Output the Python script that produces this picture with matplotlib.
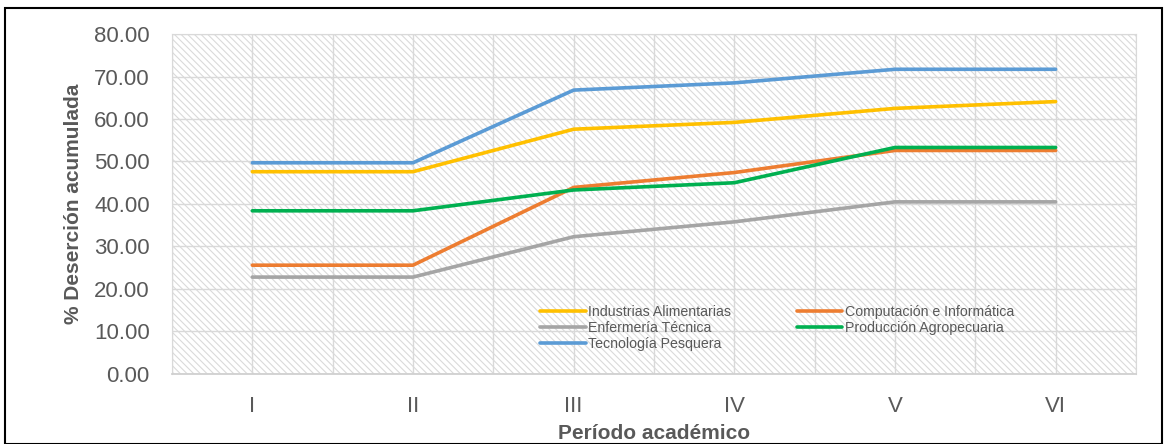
import matplotlib
matplotlib.use("Agg")
from matplotlib import pyplot as plt
from matplotlib.patches import Rectangle

plt.rcParams['font.family'] = ['Liberation Sans', 'DejaVu Sans']
plt.rcParams['hatch.linewidth'] = 0.8

# data
periods = ['I', 'II', 'III', 'IV', 'V', 'VI']
industrias = [47.6, 47.6, 57.6, 59.2, 62.5, 64.1]
computacion = [25.6, 25.6, 43.9, 47.4, 52.6, 52.6]
enfermeria = [22.8, 22.8, 32.3, 35.8, 40.5, 40.5]
produccion = [38.4, 38.4, 43.3, 45.0, 53.3, 53.3]
tecnologia = [49.7, 49.7, 66.8, 68.5, 71.7, 71.7]

series = [
    ('Industrias Alimentarias', industrias, '#FFC000'),
    ('Computación e Informática', computacion, '#ED7D31'),
    ('Enfermería Técnica', enfermeria, '#A5A5A5'),
    ('Producción Agropecuaria', produccion, '#00B050'),
    ('Tecnología Pesquera', tecnologia, '#5B9BD5'),
]

text_color = '#595959'
grid_color = '#d9d9d9'

fig = plt.figure(figsize=(11.67, 4.44), dpi=100)
fig.patches.append(Rectangle((0.004, 0.0), 0.992, 0.982, transform=fig.transFigure,
                             fill=False, edgecolor='black', linewidth=1.5))
ax = fig.add_axes([0.1474, 0.1577, 0.826, 0.7657])

# hatched plot area background
ax.add_patch(Rectangle((0, 0), 1, 1, transform=ax.transAxes, facecolor='white',
                       edgecolor='#dadada', linewidth=0, hatch='\\\\\\\\\\', zorder=0))

x = list(range(len(periods)))
handles = []
for name, vals, color in series:
    h, = ax.plot(x, vals, color=color, linewidth=2.6, label=name,
                 solid_capstyle='round', zorder=3)
    handles.append(h)

ax.set_xlim(-0.5, 5.5)
ax.set_ylim(0, 80)
ax.set_xticks(x)
ax.set_xticklabels(periods)
ax.set_xticks([i + 0.5 for i in range(-1, 6)], minor=True)
ax.set_yticks(range(0, 81, 10))
ax.set_yticklabels(['{0:.2f}'.format(v) for v in range(0, 81, 10)])
ax.grid(True, which='both', color=grid_color, linewidth=1.0, zorder=1)
ax.set_axisbelow(True)

ax.tick_params(axis='both', which='both', length=0, colors=text_color, labelsize=16)
ax.tick_params(axis='x', pad=16)
ax.tick_params(axis='y', pad=16)

for side in ['top', 'left', 'right']:
    ax.spines[side].set_color(grid_color)
ax.spines['bottom'].set_color('#d0d0d0')
ax.spines['bottom'].set_linewidth(1.3)

ax.set_ylabel('% Deserción acumulada', fontsize=15, fontweight='bold',
              color=text_color, labelpad=8)
ax.set_xlabel('Período académico', fontsize=15, fontweight='bold',
              color=text_color, labelpad=5)

# row-major legend order like the reference
order = [0, 2, 4, 1, 3]
leg = ax.legend([handles[i] for i in order], [series[i][0] for i in order],
                loc='upper left', bbox_to_anchor=(0.382, 0.202), ncol=2, frameon=False,
                fontsize=10.2, handlelength=3.2, handletextpad=0.2, labelspacing=0.12,
                columnspacing=4.6, borderaxespad=0, borderpad=0)
for t in leg.get_texts():
    t.set_color(text_color)

fig.savefig('out.png', dpi=100)
